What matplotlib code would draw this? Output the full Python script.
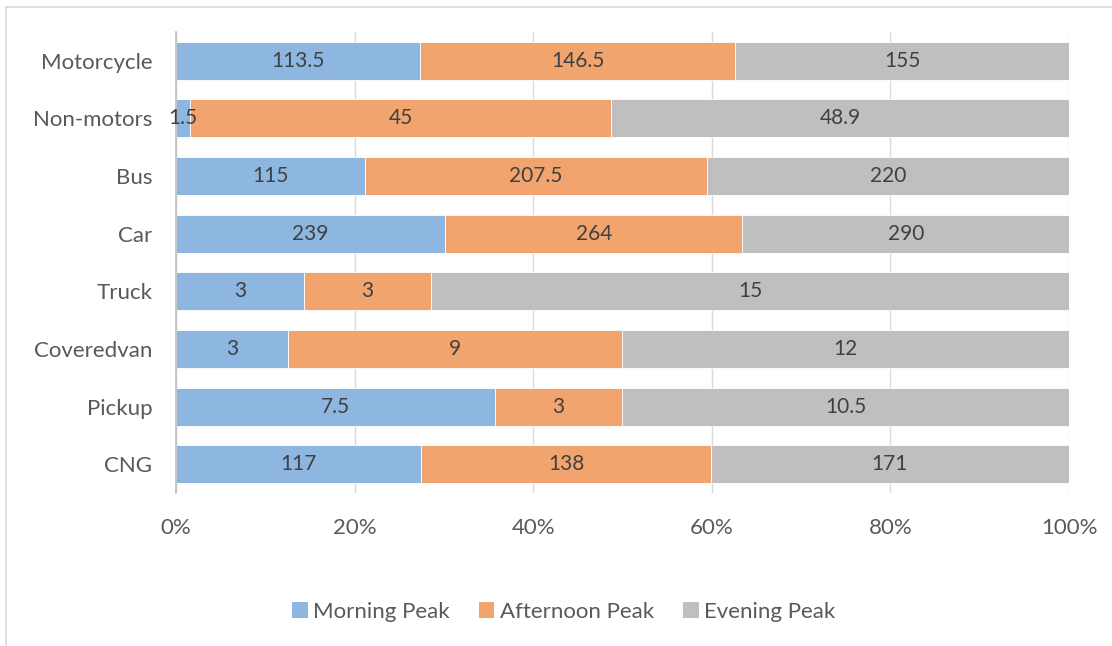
import matplotlib
matplotlib.use("Agg")
import matplotlib.pyplot as plt
from matplotlib.patches import Patch
from matplotlib.lines import Line2D
import numpy as np

categories = ["Motorcycle", "Non-motors", "Bus", "Car", "Truck", "Coveredvan", "Pickup", "CNG"]
morning = [113.5, 1.5, 115, 239, 3, 3, 7.5, 117]
afternoon = [146.5, 45, 207.5, 264, 3, 9, 3, 138]
evening = [155, 48.9, 220, 290, 15, 12, 10.5, 171]
series_names = ["Morning Peak", "Afternoon Peak", "Evening Peak"]
colors = ["#8DB7E1", "#F1A46E", "#BFBFBF"]
x_ticks = [0, 20, 40, 60, 80, 100]

plt.rcParams["font.family"] = ["Lato", "DejaVu Sans"]

fig = plt.figure(figsize=(11.12, 6.46), dpi=100)
ax = fig.add_axes([0.1583, 0.2368, 0.803, 0.7137])

series = [np.array(morning), np.array(afternoon), np.array(evening)]
totals = series[0] + series[1] + series[2]
y = np.arange(len(categories))
left = np.zeros(len(categories))
for vals, col, name in zip(series, colors, series_names):
    pct = vals / totals * 100
    ax.barh(y, pct, left=left, height=0.66, color=col, edgecolor="white",
            linewidth=0.6, label=name, zorder=2)
    for yi, l, p, v in zip(y, left, pct, vals):
        ax.text(l + p / 2, yi, f"{v:g}", ha="center", va="center",
                fontsize=15, color="#404040", zorder=5)
    left = left + pct

ax.set_xlim(0, 100)
ax.set_ylim(len(categories) - 0.5, -0.5)
ax.set_yticks(y)
ax.set_yticklabels(categories, fontsize=16, color="#595959")
ax.set_xticks(x_ticks)
ax.set_xticklabels([f"{t}%" for t in x_ticks], fontsize=16, color="#595959")
ax.tick_params(axis="both", length=0)
ax.tick_params(axis="x", pad=18)
ax.tick_params(axis="y", pad=17)
ax.grid(axis="x", color="#D9D9D9", linewidth=1, zorder=0)
ax.set_axisbelow(True)
for side in ["top", "right", "bottom"]:
    ax.spines[side].set_visible(False)
ax.spines["left"].set_color("#BFBFBF")
ax.spines["left"].set_linewidth(1.2)
ax.spines["left"].set_zorder(4)

handles = [Patch(facecolor=c, edgecolor="none") for c in colors]
fig.legend(handles, series_names, loc="center", bbox_to_anchor=(0.507, 0.053),
           ncol=3, frameon=False, fontsize=16, labelcolor="#595959",
           handlelength=0.7, handleheight=0.7, handletextpad=0.25, columnspacing=1.3)

# chart frame edges
fig.add_artist(Line2D([6 / 1112, 1], [1 - 7 / 646, 1 - 7 / 646], color="#D9D9D9", linewidth=1.2))
fig.add_artist(Line2D([6 / 1112, 6 / 1112], [0, 1 - 7 / 646], color="#D9D9D9", linewidth=1.2))

fig.savefig("out.png", dpi=100)
